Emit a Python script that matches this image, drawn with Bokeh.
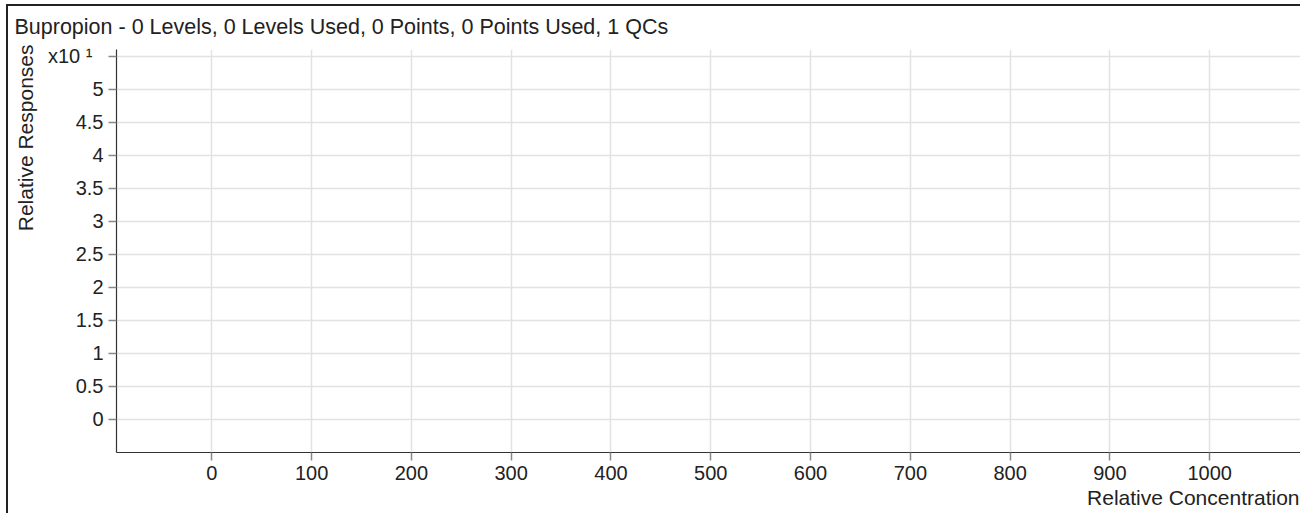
from bokeh.plotting import figure
from bokeh.models import FixedTicker, Range1d, Title
from bokeh.embed import file_html
from bokeh.resources import INLINE

# ---- data / texts ----
title_text = "Bupropion - 0 Levels, 0 Levels Used, 0 Points, 0 Points Used, 1 QCs"
x_label = "Relative Concentration"
y_label = "Relative Responses"
x_ticks = [0, 100, 200, 300, 400, 500, 600, 700, 800, 900, 1000]
x_tick_labels = ["0", "100", "200", "300", "400", "500", "600", "700", "800", "900", "1000"]
y_ticks = [0, 0.5, 1, 1.5, 2, 2.5, 3, 3.5, 4, 4.5, 5, 5.5]
y_tick_labels = ["0", "0.5", "1", "1.5", "2", "2.5", "3", "3.5", "4", "4.5", "5",
                 "x10 \u00b9\u00a0\u00a0"]
cal_x = []
cal_y = []
qc_x = []
qc_y = []
x_min, x_max = -95.5, 1093
y_min, y_max = -0.5, 5.6

FONT = "Liberation Sans"
TXT = "#222222"

p = figure(width=1294, height=509,
           x_range=Range1d(x_min, x_max), y_range=Range1d(y_min, y_max),
           output_backend="svg", toolbar_location=None,
           min_border_left=108, min_border_right=0,
           min_border_top=42, min_border_bottom=63)
p.outline_line_color = None
p.background_fill_color = "white"
p.border_fill_color = "white"
p.styles = {"margin-left": "6px", "margin-top": "4px",
            "border-left": "2px solid #222222", "border-top": "2px solid #222222"}

p.title.text = title_text
p.title.align = "left"
p.title.vertical_align = "top"
p.title.offset = -102
p.title.standoff = 17
p.title.text_font = FONT
p.title.text_font_size = "21.5px"
p.title.text_font_style = "normal"
p.title.text_line_height = 1.0
p.title.text_color = TXT

p.xaxis.ticker = FixedTicker(ticks=x_ticks)
p.yaxis.ticker = FixedTicker(ticks=y_ticks)
p.xaxis.major_label_overrides = {float(t): s for t, s in zip(x_ticks, x_tick_labels)}
p.yaxis.major_label_overrides = {float(t): s for t, s in zip(y_ticks, y_tick_labels)}
for ax in (p.xaxis, p.yaxis):
    ax.axis_line_color = "#333333"
    ax.axis_line_width = 1.2
    ax.major_tick_line_color = "#888888"
    ax.major_tick_line_width = 1.5
    ax.major_tick_out = 8
    ax.major_tick_in = 0
    ax.minor_tick_line_color = None
    ax.major_label_standoff = 5
    ax.major_label_text_font = FONT
    ax.major_label_text_font_size = "20px"
    ax.major_label_text_color = TXT

lab = dict(text_font=FONT, text_font_size="21px", text_font_style="normal",
           text_color=TXT)
p.add_layout(Title(text=y_label, align="right", vertical_align="top", offset=-5,
                   standoff=11, **lab), "left")
p.add_layout(Title(text=x_label, align="right", offset=3, standoff=3, **lab), "below")

p.xgrid.ticker = FixedTicker(ticks=x_ticks)
p.ygrid.ticker = FixedTicker(ticks=y_ticks)
for g in (p.xgrid, p.ygrid):
    g.grid_line_color = "#e2e2e2"
    g.grid_line_width = 1.5

p.scatter(cal_x, cal_y, size=8, color="#1f77b4")
p.scatter(qc_x, qc_y, size=8, marker="triangle", color="#2ca02c")

open("out.html", "w").write(file_html(p, INLINE))
